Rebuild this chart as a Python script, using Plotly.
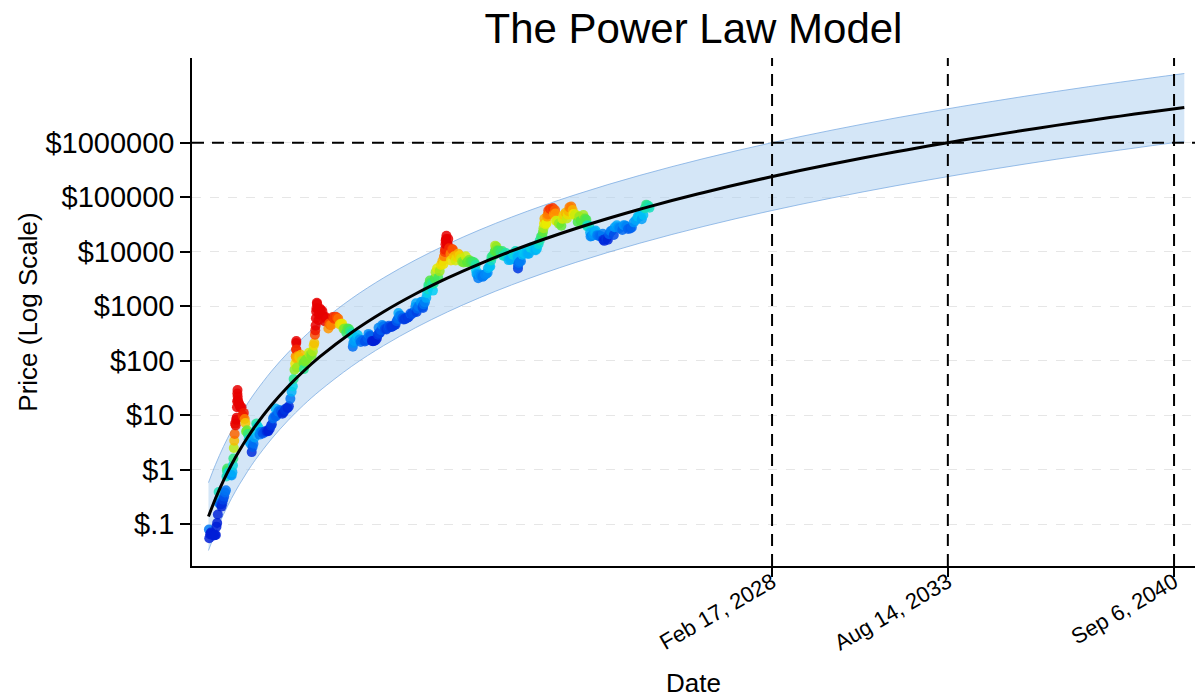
import numpy as np
import pandas as pd
import plotly.graph_objects as go

# ---------------- data ----------------
price_dates = [
    "2010-07-18","2010-07-22","2010-08-01","2010-08-10","2010-08-20","2010-09-01","2010-09-12","2010-09-25",
    "2010-10-05","2010-10-12","2010-10-20","2010-10-28","2010-11-02","2010-11-06","2010-11-10","2010-11-18",
    "2010-11-28","2010-12-08","2010-12-18","2010-12-28","2011-01-08","2011-01-18","2011-01-28","2011-02-03",
    "2011-02-08","2011-02-12","2011-02-20","2011-03-01","2011-03-12","2011-03-24","2011-04-03","2011-04-12",
    "2011-04-18","2011-04-23","2011-04-28","2011-05-03","2011-05-08","2011-05-13","2011-05-19","2011-05-25",
    "2011-05-31","2011-06-03","2011-06-05","2011-06-07","2011-06-09","2011-06-11","2011-06-14","2011-06-20",
    "2011-06-28","2011-07-05","2011-07-15","2011-07-25","2011-08-05","2011-08-12","2011-08-20","2011-08-30",
    "2011-09-07","2011-09-15","2011-09-25","2011-10-05","2011-10-15","2011-10-25","2011-11-05","2011-11-18",
    "2011-11-28","2011-12-08","2011-12-20","2012-01-01","2012-01-09","2012-01-20","2012-02-01","2012-02-15",
    "2012-02-25","2012-03-10","2012-03-25","2012-04-10","2012-04-25","2012-05-10","2012-05-25","2012-06-10",
    "2012-06-25","2012-07-05","2012-07-18","2012-08-01","2012-08-16","2012-08-19","2012-09-01","2012-09-15",
    "2012-10-01","2012-10-15","2012-11-01","2012-11-15","2012-12-01","2012-12-15","2013-01-01","2013-01-15",
    "2013-02-01","2013-02-15","2013-03-01","2013-03-10","2013-03-20","2013-03-28","2013-04-03","2013-04-07",
    "2013-04-09","2013-04-10","2013-04-11","2013-04-12","2013-04-16","2013-04-22","2013-05-01","2013-05-15",
    "2013-06-01","2013-06-15","2013-07-01","2013-07-05","2013-07-15","2013-08-01","2013-08-15","2013-09-01",
    "2013-09-15","2013-10-01","2013-10-15","2013-10-25","2013-11-01","2013-11-08","2013-11-12","2013-11-16",
    "2013-11-19","2013-11-22","2013-11-26","2013-11-30","2013-12-04","2013-12-10","2013-12-18","2013-12-25",
    "2014-01-05","2014-01-15","2014-02-01","2014-02-15","2014-02-25","2014-03-10","2014-03-25","2014-04-10",
    "2014-04-20","2014-05-01","2014-05-15","2014-06-01","2014-06-15","2014-07-01","2014-07-15","2014-08-01",
    "2014-08-18","2014-09-01","2014-09-15","2014-10-01","2014-10-15","2014-11-01","2014-11-15","2014-12-01",
    "2014-12-15","2015-01-01","2015-01-08","2015-01-14","2015-01-20","2015-02-01","2015-02-15","2015-03-01",
    "2015-03-12","2015-04-01","2015-04-15","2015-05-01","2015-05-15","2015-06-01","2015-06-15","2015-07-01",
    "2015-07-12","2015-07-25","2015-08-05","2015-08-20","2015-09-01","2015-09-15","2015-10-01","2015-10-15",
    "2015-10-28","2015-11-04","2015-11-11","2015-11-20","2015-12-01","2015-12-15","2016-01-01","2016-01-15",
    "2016-02-01","2016-02-15","2016-03-01","2016-03-15","2016-04-01","2016-04-15","2016-05-01","2016-05-15",
    "2016-05-28","2016-06-10","2016-06-17","2016-06-22","2016-07-01","2016-07-15","2016-08-01","2016-08-15",
    "2016-09-01","2016-09-15","2016-10-01","2016-10-15","2016-11-01","2016-11-15","2016-12-01","2016-12-15",
    "2016-12-28","2017-01-04","2017-01-11","2017-01-20","2017-02-01","2017-02-15","2017-03-01","2017-03-10",
    "2017-03-18","2017-03-25","2017-04-01","2017-04-15","2017-05-01","2017-05-10","2017-05-20","2017-05-25",
    "2017-06-01","2017-06-11","2017-06-20","2017-07-01","2017-07-16","2017-07-25","2017-08-05","2017-08-15",
    "2017-09-01","2017-09-15","2017-10-01","2017-10-15","2017-11-01","2017-11-12","2017-11-20","2017-11-28",
    "2017-12-02","2017-12-06","2017-12-08","2017-12-12","2017-12-17","2017-12-22","2018-01-01","2018-01-07",
    "2018-01-16","2018-02-01","2018-02-06","2018-02-20","2018-03-01","2018-03-15","2018-04-01","2018-04-15",
    "2018-05-01","2018-05-15","2018-06-01","2018-06-15","2018-07-01","2018-07-25","2018-08-10","2018-09-01",
    "2018-09-15","2018-10-01","2018-10-15","2018-11-01","2018-11-15","2018-11-20","2018-11-25","2018-12-05",
    "2018-12-15","2018-12-25","2019-01-05","2019-01-15","2019-02-01","2019-02-15","2019-03-01","2019-03-15",
    "2019-04-01","2019-04-05","2019-04-20","2019-05-01","2019-05-11","2019-05-15","2019-06-01","2019-06-15",
    "2019-06-22","2019-06-26","2019-07-02","2019-07-10","2019-07-20","2019-08-01","2019-08-15","2019-09-01",
    "2019-09-15","2019-09-25","2019-10-15","2019-10-26","2019-11-15","2019-11-25","2019-12-15","2020-01-01",
    "2020-01-15","2020-02-01","2020-02-13","2020-03-01","2020-03-11","2020-03-12","2020-03-13","2020-03-20",
    "2020-04-01","2020-04-15","2020-05-01","2020-05-15","2020-06-01","2020-06-15","2020-07-01","2020-07-15",
    "2020-08-01","2020-08-15","2020-09-01","2020-09-15","2020-10-01","2020-10-15","2020-11-01","2020-11-15",
    "2020-12-01","2020-12-15","2020-12-22","2020-12-28","2021-01-03","2021-01-08","2021-01-22","2021-02-01",
    "2021-02-08","2021-02-14","2021-02-21","2021-03-01","2021-03-13","2021-04-01","2021-04-14","2021-04-25",
    "2021-05-08","2021-05-13","2021-05-19","2021-06-01","2021-06-22","2021-07-01","2021-07-20","2021-08-01",
    "2021-08-15","2021-09-06","2021-09-21","2021-10-01","2021-10-10","2021-10-20","2021-11-10","2021-11-25",
    "2021-12-05","2021-12-20","2022-01-01","2022-01-22","2022-02-10","2022-02-24","2022-03-28","2022-04-15",
    "2022-05-01","2022-05-09","2022-05-12","2022-06-01","2022-06-13","2022-06-18","2022-07-01","2022-07-15",
    "2022-08-01","2022-08-14","2022-09-01","2022-09-15","2022-10-01","2022-10-15","2022-11-05","2022-11-10",
    "2022-11-21","2022-12-15","2023-01-01","2023-01-15","2023-02-01","2023-02-15","2023-03-10","2023-03-20",
    "2023-04-14","2023-05-01","2023-05-15","2023-06-15","2023-07-01","2023-07-15","2023-08-01","2023-08-20",
    "2023-09-15","2023-10-01","2023-10-24","2023-11-15","2023-12-08","2023-12-20","2024-01-01","2024-01-11",
    "2024-01-23","2024-02-10","2024-02-28","2024-03-14","2024-03-25","2024-04-10","2024-04-20",
]
price_values = [
    0.08,0.055,0.065,0.07,0.067,0.063,0.062,0.063,
    0.063,0.09,0.105,0.15,0.25,0.39,0.28,0.24,
    0.23,0.21,0.24,0.28,0.32,0.38,0.42,0.75,
    0.95,1.05,0.88,0.9,0.87,0.80,0.78,0.9,
    1.2,1.6,2.5,3.4,4.5,7,6.5,8.2,
    9.0,14,18,25,29,22,19,17,
    16,14.5,13.8,14,10,9.5,11,8.5,
    7.2,5,5.3,4.5,3.6,3.2,3.0,2.1,
    2.6,3.0,3.9,5.2,7.0,6.3,6.0,4.4,
    4.9,4.9,4.6,4.9,5.1,5.0,5.1,5.6,
    6.4,6.8,8.7,9.4,13.3,9.5,10.1,11.6,
    12.4,11.8,10.6,11.2,12.5,13.3,13.5,14.5,
    20,27,34,46,68,88,120,160,
    210,230,160,110,75,120,117,115,
    128,100,90,70,97,105,108,140,
    128,125,148,190,210,300,360,440,
    600,800,920,1150,1100,900,550,700,
    900,850,810,650,530,630,580,390,
    480,450,450,630,590,640,620,590,
    460,475,475,380,390,325,390,380,
    345,315,290,180,210,230,235,260,
    295,245,220,235,237,225,235,258,
    310,290,280,230,228,230,237,255,
    300,400,320,325,362,450,430,380,
    372,400,435,415,416,430,450,455,
    530,580,750,600,675,665,600,570,
    575,610,615,640,730,710,755,780,
    975,1130,780,900,990,1010,1190,1190,
    970,930,1080,1180,1420,1750,2050,2450,
    2400,2950,2700,2500,1930,2600,3200,4200,
    4900,3300,4400,5700,6700,5900,8200,9900,
    10900,13700,16000,17000,19500,14000,13500,17000,
    11500,9100,6900,11200,10900,8200,6900,8000,
    9200,8500,7500,6500,6350,8200,6400,7000,
    6500,6600,6450,6350,5700,4500,3900,3800,
    3250,3750,3800,3600,3450,3600,3820,3920,
    4100,4950,5300,5350,6900,8000,8550,8700,
    10200,12900,10600,12300,10500,10400,10300,9600,
    10300,8400,8300,9500,8500,7000,7100,7200,
    8800,9400,10300,8500,7900,4900,5600,6200,
    6600,6650,8800,9400,10200,9400,9200,9200,
    11800,11900,11900,10800,10600,11500,13700,16000,
    19000,19400,23000,27000,33000,40000,32000,33500,
    44000,48000,57000,49000,61000,59000,63500,49000,
    58000,50000,37000,36500,32500,33500,29800,40000,
    47000,52000,40500,48000,55000,65000,67500,58000,
    49000,46500,47500,35000,44000,37000,47000,40500,
    38500,30500,29000,30000,22500,19000,19300,21000,
    23300,24400,20100,19700,19300,19200,21300,16500,
    15800,17400,16600,20900,23700,24300,20200,28000,
    30400,28000,27000,25000,30500,30300,29200,26100,
    26600,27900,34500,37800,44000,43700,44200,46500,
    39500,47100,62500,73000,70000,69000,64000,
]

model_dates = [
    "2010-07-13","2010-10-01","2011-01-01","2011-04-01","2011-07-01","2011-10-01","2012-01-01","2012-07-01",
    "2013-01-01","2013-07-01","2014-01-01","2015-01-01","2016-01-01","2017-01-01","2018-01-01","2019-01-01",
    "2020-01-01","2021-01-01","2022-01-01","2023-01-01","2024-01-01","2025-01-01","2026-01-01","2027-01-01",
    "2028-01-01","2029-01-01","2030-01-01","2031-01-01","2032-01-01","2033-01-01","2034-01-01","2035-01-01",
    "2036-01-01","2037-01-01","2038-01-01","2039-01-01","2040-01-01","2041-01-01",
]
model_values = [
    0.138,0.296,0.637,1.234,2.247,3.884,6.396,15.33,
    32.95,64.0,117.0,329.6,791,1691,3301,6001,
    10309,16920,26640,40570,60010,86640,122200,169000,
    229700,307600,405700,528200,679900,866000,1092000,1363000,
    1689000,2078000,2536000,3073000,3702000,4436000,
]
band_upper = [
    0.578,1.24,2.67,5.17,9.41,16.3,26.8,64.2,
    138,268,490,1381,3314,7085,13830,25140,
    43190,70890,111600,170000,251400,363000,512000,708100,
    962400,1289000,1700000,2213000,2849000,3628000,4575000,5711000,
    7077000,8707000,10630000,12880000,15510000,18590000,
]
band_lower = [
    0.0329,0.0706,0.152,0.295,0.536,0.927,1.53,3.66,
    7.86,15.3,27.9,78.7,189,404,788,1432,
    2460,4038,6358,9683,14320,20680,29160,40330,
    54820,73410,96830,126100,162300,206700,260600,325300,
    403100,495900,605300,733400,883500,1059000,
]

milestone_dates = ["2028-02-17", "2033-08-14", "2040-09-06"]
milestone_labels = ["Feb 17, 2028", "Aug 14, 2033", "Sep 6, 2040"]
milestone_price = 1000000

ytick_vals = [0.1, 1, 10, 100, 1000, 10000, 100000, 1000000]
ytick_text = ["$.1", "$1", "$10", "$100", "$1000", "$10000", "$100000", "$1000000"]

x_range = ["2010-01-06", "2041-05-03"]
y_range_log = [-1.768, 7.554]

# ---------------- colour = deviation from model (log10) ----------------
origin = pd.Timestamp("2009-01-03")
p_days = np.asarray((pd.to_datetime(price_dates) - origin).days, dtype=float)
m_days = np.asarray((pd.to_datetime(model_dates) - origin).days, dtype=float)
deviation = np.log10(price_values) - np.interp(p_days, m_days, np.log10(model_values))

colorscale = [
    [0.0, "rgb(0,30,215)"], [0.1, "rgb(0,95,240)"], [0.2, "rgb(0,155,250)"],
    [0.3, "rgb(0,205,245)"], [0.42, "rgb(30,230,160)"], [0.52, "rgb(80,230,60)"],
    [0.68, "rgb(235,235,0)"], [0.8, "rgb(255,150,0)"], [0.9, "rgb(250,60,0)"], [1.0, "rgb(230,0,0)"],
]

FONT = "Liberation Sans, Arial, Helvetica, sans-serif"

fig = go.Figure()

fig.add_trace(go.Scatter(
    x=model_dates, y=band_lower, mode="lines", line=dict(color="rgba(120,170,225,0.75)", width=1, shape="spline"),
    hoverinfo="skip", showlegend=False))
fig.add_trace(go.Scatter(
    x=model_dates, y=band_upper, mode="lines", line=dict(color="rgba(120,170,225,0.75)", width=1, shape="spline"),
    fill="tonexty", fillcolor="rgba(170,205,240,0.5)", hoverinfo="skip", showlegend=False))

fig.add_trace(go.Scatter(
    x=price_dates, y=price_values, mode="markers",
    marker=dict(size=10, color=deviation, colorscale=colorscale, cmin=-0.4, cmax=0.6, opacity=0.85,
                line=dict(width=0)),
    showlegend=False))

fig.add_trace(go.Scatter(
    x=model_dates, y=model_values, mode="lines", line=dict(color="black", width=3, shape="spline"),
    showlegend=False))

dash = "12px,8px"
for d in milestone_dates:
    fig.add_shape(type="line", xref="x", yref="paper", x0=d, x1=d, y0=0, y1=1,
                  line=dict(color="black", width=2, dash=dash), layer="above")
fig.add_shape(type="line", xref="paper", yref="y", x0=0, x1=1, y0=milestone_price, y1=milestone_price,
              line=dict(color="black", width=2, dash=dash), layer="above")

fig.update_layout(
    width=1195, height=698,
    margin=dict(l=192, r=0, t=58, b=130),
    paper_bgcolor="white", plot_bgcolor="white",
    font=dict(family=FONT, color="black", size=26),
    title=dict(text="The Power Law Model", x=0.5, xref="paper", xanchor="center",
               y=0.96, yref="container", yanchor="middle", font=dict(size=42, family=FONT, color="black")),
    showlegend=False,
)
fig.update_xaxes(
    type="date", range=x_range, tickmode="array", tickvals=milestone_dates, ticktext=milestone_labels,
    tickangle=-30, ticks="outside", ticklen=9, tickwidth=1.5, tickcolor="black",
    ticklabelstandoff=-16,
    showline=True, linecolor="black", linewidth=1.5, showgrid=False, zeroline=False,
    tickfont=dict(size=22, family=FONT, color="black"),
    title=dict(text="Date", font=dict(size=26, family=FONT, color="black"), standoff=24),
)
fig.update_yaxes(
    type="log", range=y_range_log, tickmode="array", tickvals=ytick_vals, ticktext=ytick_text,
    ticks="outside", ticklen=10, tickwidth=1.5, tickcolor="black",
    showline=True, linecolor="black", linewidth=1.5,
    showgrid=True, gridcolor="#e6e6e6", gridwidth=1.2, griddash="dash", zeroline=False,
    tickfont=dict(size=29, family=FONT, color="black"),
    title=dict(text="Price (Log Scale)", font=dict(size=26, family=FONT, color="black"), standoff=0),
)

fig.write_html("out.html", config={"displayModeBar": False},
               post_script="document.body.style.margin='0';document.body.style.overflow='hidden';")
